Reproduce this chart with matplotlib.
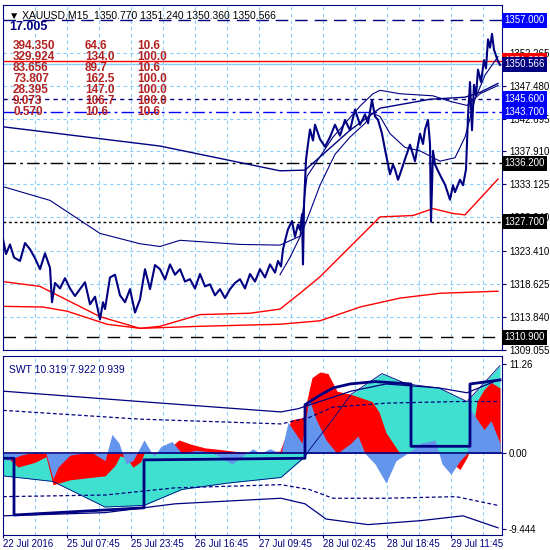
import numpy as np
import matplotlib
matplotlib.use('Agg')
import matplotlib.pyplot as plt

NAVY = '#000080'
GRID = '#87CEFA'

# price path (x = bar position in chart pixels)
px = [3, 6, 10, 14, 20, 25, 30, 35, 40, 45, 50, 52, 55, 60, 65, 70, 75, 80, 85, 90, 95, 100, 103, 105, 110, 115,
      120, 125, 130, 135, 140, 145, 150, 155, 160, 165, 170, 175, 180, 185, 190, 195, 200, 205, 210, 215, 220,
      225, 230, 235, 240, 245, 250, 255, 260, 265, 270, 275, 278, 281, 283, 286, 288, 292, 295, 298, 300,
      302, 303, 304, 306, 308, 310, 313, 315, 320, 325, 330, 335, 340, 345, 350, 355, 360, 365, 368, 372,
      375, 378, 382, 385, 388, 390, 393, 395, 398, 400, 405, 410, 415, 420, 423, 425, 428, 430, 431, 433,
      435, 440, 445, 448, 450, 453, 455, 460, 463, 465, 466, 468, 470, 472, 474, 476, 478, 481, 484, 486,
      488, 490, 492, 494, 498, 500]
price = [1325.2, 1323.0, 1324.4, 1322.5, 1322.0, 1324.6, 1323.7, 1322.4, 1320.8, 1323.1, 1321.0, 1316.0,
         1318.8, 1318.0, 1319.5, 1318.0, 1316.9, 1317.9, 1318.9, 1315.7, 1316.8, 1313.5, 1316.0, 1315.0,
         1319.6, 1320.0, 1317.0, 1316.0, 1317.9, 1314.5, 1316.4, 1320.8, 1317.9, 1321.4, 1320.8, 1319.3,
         1321.5, 1320.0, 1320.8, 1319.0, 1319.35, 1318.0, 1320.1, 1318.3, 1318.6, 1317.0, 1317.9, 1316.6,
         1317.9, 1318.8, 1319.35, 1318.0, 1320.1, 1319.0, 1320.8, 1319.6, 1321.5, 1320.3, 1322.0, 1321.2,
         1323.7, 1325.5, 1326.6, 1327.8, 1325.5, 1327.3, 1326.5, 1328.8, 1321.5, 1330.0, 1336.7, 1339.0,
         1341.1, 1339.5, 1341.8, 1339.7, 1338.6, 1340.0, 1341.8, 1340.2, 1342.5, 1341.0, 1344.0, 1341.8,
         1343.3, 1342.0, 1345.4, 1343.0, 1342.5, 1340.5, 1338.2, 1336.0, 1334.6, 1336.0, 1335.3, 1333.8,
         1334.6, 1336.8, 1338.9, 1336.5, 1340.5, 1339.0, 1341.1, 1342.5, 1339.0, 1327.7, 1338.0, 1336.0,
         1334.5, 1333.1, 1331.8, 1330.9, 1333.0, 1332.0, 1333.8, 1333.0, 1334.5, 1335.3, 1343.0, 1348.0,
         1341.0, 1347.6, 1346.0, 1349.8, 1348.0, 1351.2, 1350.0, 1354.2, 1353.0, 1355.0, 1352.7, 1351.0,
         1350.5]

# moving averages on price chart (x, price)
slow_x = [3, 160, 280, 305, 323, 350, 380, 430, 465, 480, 498]
slow_y = [1341.5, 1338.7, 1335.1, 1335.2, 1337.5, 1341.0, 1344.2, 1345.5, 1345.8, 1346.5, 1347.8]
mid_x = [3, 50, 100, 140, 160, 180, 240, 280, 300, 307, 333, 360, 373, 380, 400, 433, 450, 467, 480, 498]
mid_y = [1332.8, 1330.8, 1326.0, 1324.5, 1324.1, 1325.0, 1324.4, 1324.3, 1325.6, 1334.3, 1340.0, 1344.5,
         1346.3, 1346.8, 1346.3, 1346.0, 1345.2, 1344.6, 1346.3, 1347.5]
fast_x = [280, 290, 300, 307, 320, 335, 350, 365, 372, 380, 390, 405, 420, 440, 455, 465, 475, 485, 498]
fast_y = [1320.0, 1322.5, 1325.5, 1328.0, 1333.0, 1337.5, 1340.0, 1342.0, 1343.5, 1343.0, 1340.5, 1338.5,
          1338.0, 1336.5, 1337.0, 1340.0, 1345.5, 1349.0, 1351.7]
red1_x = [3, 40, 100, 140, 160, 200, 250, 280, 300, 320, 340, 380, 413, 433, 453, 465, 498]
red1_y = [1319.0, 1318.3, 1313.9, 1312.2, 1312.5, 1314.2, 1314.4, 1315.0, 1317.3, 1319.7, 1322.6,
          1328.4, 1328.6, 1329.6, 1328.9, 1328.7, 1333.9]
red2_x = [3, 43, 67, 107, 140, 200, 280, 320, 360, 400, 440, 498]
red2_y = [1315.4, 1315.3, 1314.7, 1312.8, 1312.2, 1312.5, 1312.8, 1313.3, 1315.3, 1316.6, 1317.3, 1317.6]

# horizontal levels: price, colour, dash, label bg
levels = [1357.000, 1351.085, 1350.566, 1345.600, 1343.700, 1336.200, 1327.700, 1310.900]
level_col = [NAVY, 'red', GRID, NAVY, '#0000FF', 'black', 'black', 'black']
level_ls = [(0, (9, 5)), '-', '-', (0, (3, 3)), (0, (9, 3, 2, 3)), (0, (9, 3, 2, 3)), (0, (2, 2)), (0, (9, 6))]
label_bg = ['#0000FF', 'red', NAVY, '#0000FF', '#0000FF', 'black', 'black', 'black']
price_ticks = [1309.055, 1313.840, 1318.625, 1323.410, 1328.340, 1333.125, 1337.910, 1342.695, 1347.480, 1352.265]

table_rows = [['394.350', '64.6', '10.6'], ['329.924', '134.0', '100.0'], ['83.656', '89.7', '10.6'],
              ['73.807', '162.5', '100.0'], ['28.395', '147.0', '100.0'], ['9.073', '106.7', '100.0'],
              ['0.570', '10.6', '10.6']]

# SWT indicator
cyan_x = [3, 53, 105, 144, 182, 228, 281, 305, 307, 309, 333, 351, 382, 407, 439, 467, 500]
cyan_v = [-2.8, -3.5, -6.7, -6.5, -4.5, -3.7, -3.0, -0.4, 0, 0.4, 4.3, 7.4, 10.0, 8.7, 8.2, 6.5, 11.0]
red_x = [3, 18, 35, 46, 53, 70, 90, 105, 115, 120, 126, 133, 141, 144, 165, 179, 190, 205, 220, 240, 253,
         280, 285, 291, 303, 312, 320, 328, 337, 351, 372, 379, 386, 400, 410, 421, 432, 440, 449, 455, 460,
         467, 470, 477, 484, 491, 500]
red_v = [0, -1.7, -1.1, -0.4, -3.9, -3.3, -3.0, -2.8, -1.5, -0.3, -0.5, -1.7, -1.0, 0, 0.2, 1.7, 1.2, 0.7,
         0.5, 0.2, 0.1, 0.3, 2.0, 4.2, 4.5, 9.5, 10.2, 10.0, 7.8, 7.4, 6.5, 5.2, 2.6, 0, 0, 1.0, 1.2, 0, 0,
         -1.5, -2.0, -0.5, 0.5, 6.5, 8.0, 8.9, 8.2]
blue_x = [3, 7, 21, 35, 46, 53, 58, 70, 91, 105, 112, 119, 126, 133, 144, 154, 161, 172, 182, 196, 211, 232,
          246, 253, 260, 270, 281, 288, 295, 302, 309, 316, 326, 337, 351, 358, 365, 375, 386, 396, 407, 421,
          435, 442, 451, 460, 467, 470, 477, 484, 491, 500]
blue_v = [0, -0.9, -0.2, 0.2, 0, -3.2, -1.7, -0.2, 0.2, -0.9, 2.4, 1.3, -1.3, -0.9, 1.7, -0.4, 0.9, 1.5, 0,
          0.4, 0.2, -1.3, 0, 0.6, 0, 0.6, 0, 3.9, 2.6, 1.3, 6.9, 4.3, 1.7, 0, 1.3, 2.2, 0, -1.3, -3.7, -0.9,
          0, 1.3, 1.7, -1.3, -2.6, -0.9, 0, 5.6, 4.3, 3.0, 4.1, 1.3]
up_x = [3, 140, 281, 298, 351, 386, 439, 467, 500]
up_v = [7.8, 6.5, 5.2, 5.6, 7.8, 8.7, 8.2, 7.6, 9.3]
upd_x = [3, 140, 281, 309, 333, 386, 456, 500]
upd_v = [5.4, 4.3, 3.7, 4.5, 5.8, 6.3, 6.5, 6.5]
lod_x = [3, 105, 175, 281, 309, 333, 386, 456, 498]
lod_v = [-5.4, -5.2, -4.3, -3.9, -4.5, -5.6, -5.6, -5.4, -6.5]
lo_x = [3, 105, 175, 281, 305, 326, 368, 421, 463, 498]
lo_v = [-7.8, -7.4, -6.3, -5.6, -6.3, -8.2, -8.9, -8.4, -7.8, -9.3]
step_x = [3, 14, 14, 144, 144, 305, 305, 320, 333, 350, 375, 411, 411, 470, 470, 500]
step_v = [-0.6, -0.6, -7.7, -6.8, -0.8, -0.6, 6.1, 7.3, 8.2, 8.7, 9.0, 8.7, 0.9, 0.9, 8.7, 9.2]

date_labels = ['22 Jul 2016', '25 Jul 07:45', '25 Jul 23:45', '26 Jul 16:45', '27 Jul 09:45',
               '28 Jul 02:45', '28 Jul 18:45', '29 Jul 11:45']

plt.rcParams['font.family'] = 'Liberation Sans'
plt.rcParams['font.size'] = 7
fig = plt.figure(figsize=(5.5, 5.5), dpi=100)
W = 550.0
ax = fig.add_axes([3 / W, 1 - 350 / W, 499 / W, 345 / W])
ax2 = fig.add_axes([3 / W, 1 - 535 / W, 499 / W, 179 / W])

for a in (ax, ax2):
    a.set_xlim(3, 502)
    for s in a.spines.values():
        s.set_color(NAVY)
    a.yaxis.tick_right()
    a.tick_params(colors=NAVY, labelcolor='black', length=3, labelsize=7, pad=2)
    for gx in range(35, 500, 32):
        a.axvline(gx, color=GRID, lw=0.8, ls=(0, (3, 3)), zorder=0)

# main price chart
ax.set_ylim(1309.2, 1359.2)
ax.set_yticks(price_ticks)
ax.set_yticklabels(['%.3f' % t for t in price_ticks])
ax.set_xticks([])
for t in price_ticks:
    ax.axhline(t, color=GRID, lw=0.8, ls=(0, (3, 3)), zorder=0)
for lv, c, ls, bg in zip(levels, level_col, level_ls, label_bg):
    ax.axhline(lv, color=c, lw=1, ls=ls, zorder=1)
    ax.text(1.004, lv, '%.3f' % lv, transform=ax.get_yaxis_transform(), ha='left', va='center',
            color='white', fontsize=7, zorder=5, clip_on=False,
            bbox=dict(boxstyle='square,pad=0.25', fc=bg, ec='none'))

ax.plot(red1_x, red1_y, color='red', lw=1)
ax.plot(red2_x, red2_y, color='red', lw=1)
ax.plot(slow_x, slow_y, color=NAVY, lw=1)
ax.plot(mid_x, mid_y, color=NAVY, lw=0.8)
ax.plot(fast_x, fast_y, color=NAVY, lw=0.8)
ax.plot(px, price, color=NAVY, lw=1.5)

ax.text(0.012, 0.985, '\u25bc XAUUSD,M15  1350.770 1351.240 1350.360 1350.566', transform=ax.transAxes,
        ha='left', va='top', color='black', fontsize=7.5)
ax.text(0.012, 0.955, '17.005', transform=ax.transAxes, ha='left', va='top', color=NAVY,
        fontsize=9, fontweight='bold')
for i, row in enumerate(table_rows):
    yy = 46 + i * 11
    for xx, s in zip([13, 85, 137], row):
        ax.text((xx - 3) / 499, 1 - (yy - 5) / 345, s, transform=ax.transAxes, ha='left', va='center',
                color='#B22222', fontsize=8.5, fontweight='bold')

# SWT panel
ax2.set_ylim(-10.2, 12.2)
ax2.set_yticks([11.26, 0.0, -9.444])
ax2.set_yticklabels(['11.26', '0.00', '-9.444'])
ax2.fill_between(cyan_x, 0, cyan_v, color='#40E0D0', lw=0, zorder=1)
ax2.fill_between(red_x, 0, red_v, color='red', lw=0, zorder=2)
ax2.fill_between(blue_x, 0, blue_v, color='#6495ED', lw=0, zorder=3)
ax2.plot(cyan_x, cyan_v, color=NAVY, lw=0.6, zorder=3)
ax2.axhline(0, color=NAVY, lw=1.2, zorder=4)
ax2.plot(up_x, up_v, color=NAVY, lw=0.9, zorder=4)
ax2.plot(lo_x, lo_v, color=NAVY, lw=0.9, zorder=4)
ax2.plot(upd_x, upd_v, color=NAVY, lw=0.9, ls=(0, (3, 2)), zorder=4)
ax2.plot(lod_x, lod_v, color=NAVY, lw=0.9, ls=(0, (3, 2)), zorder=4)
ax2.plot(step_x, step_v, color=NAVY, lw=2, zorder=5)
ax2.text(0.012, 0.95, 'SWT 10.319 7.922 0.939', transform=ax2.transAxes, ha='left', va='top',
         color=NAVY, fontsize=7.5)
ax2.set_xticks([3 + 64 * i for i in range(len(date_labels))])
ax2.set_xticklabels(date_labels, ha='left')
ax2.tick_params(axis='x', labelcolor=NAVY, pad=1, length=2)

fig.savefig('out.png', dpi=100, facecolor='white')
